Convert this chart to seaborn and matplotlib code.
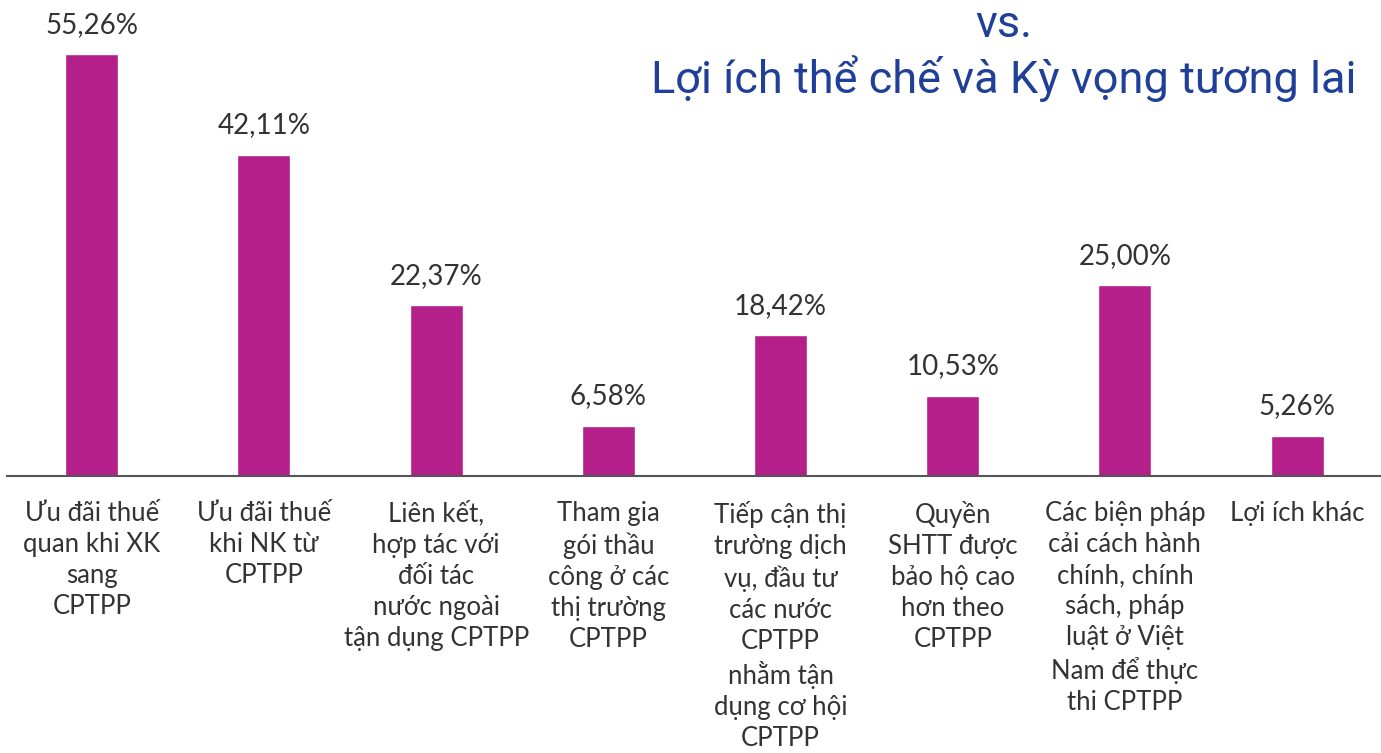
import matplotlib
matplotlib.use("Agg")
import matplotlib.pyplot as plt
import seaborn as sns
import pandas as pd

categories = [
    "Ưu đãi thuế\nquan khi XK\nsang\nCPTPP",
    "Ưu đãi thuế\nkhi NK từ\nCPTPP",
    "Liên kết,\nhợp tác với\nđối tác\nnước ngoài\ntận dụng CPTPP",
    "Tham gia\ngói thầu\ncông ở các\nthị trường\nCPTPP",
    "Tiếp cận thị\ntrường dịch\nvụ, đầu tư\ncác nước\nCPTPP\nnhằm tận\ndụng cơ hội\nCPTPP",
    "Quyền\nSHTT được\nbảo hộ cao\nhơn theo\nCPTPP",
    "Các biện pháp\ncải cách hành\nchính, chính\nsách, pháp\nluật ở Việt\nNam để thực\nthi CPTPP",
    "Lợi ích khác",
]
values = [55.26, 42.11, 22.37, 6.58, 18.42, 10.53, 25.00, 5.26]
title_lines = ["vs.", "Lợi ích thể chế và Kỳ vọng tương lai"]

sns.set_style("white")
plt.rcParams["font.family"] = ["Lato", "DejaVu Sans"]

df = pd.DataFrame({"cat": range(len(values)), "val": values})

fig = plt.figure(figsize=(13.81, 7.53), dpi=100)
ax = fig.add_axes([7 / 1381, 277 / 753, 1374 / 1381, 476 / 753])
sns.barplot(data=df, x="cat", y="val", color="#B51F8A", width=0.308,
            saturation=1, ax=ax)
ax.set_xlim(-0.492, 7.487)
ax.set_ylim(0, 62.4)

labels = [f"{v:.2f}%".replace(".", ",") for v in values]
ax.bar_label(ax.containers[0], labels=labels, padding=12,
             fontsize=20, color="#333333")

ax.set_xticks(range(len(categories)))
ax.set_xticklabels(categories, fontsize=18.5, color="#333333",
                   linespacing=1.3, va="top")
ax.tick_params(axis="x", length=0, pad=18)
ax.set_yticks([])
ax.set_xlabel("")
ax.set_ylabel("")
sns.despine(ax=ax, left=True, top=True, right=True)
ax.spines["bottom"].set_color("#555555")
ax.spines["bottom"].set_linewidth(1.5)

fig.text(1004 / 1381, 1 - 25 / 753, title_lines[0], ha="center", va="center",
         fontsize=32.5, color="#1F3F99", family=["Roboto", "DejaVu Sans"])
fig.text(1004 / 1381, 1 - 78 / 753, title_lines[1], ha="center", va="center",
         fontsize=32.5, color="#1F3F99", family=["Roboto", "DejaVu Sans"])

fig.savefig("out.png", dpi=100)
